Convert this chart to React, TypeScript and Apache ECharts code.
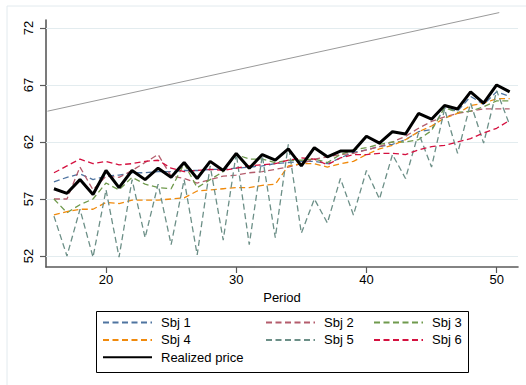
import React, { useEffect, useRef } from "react";
import * as echarts from "echarts";

const periods = [16, 17, 18, 19, 20, 21, 22, 23, 24, 25, 26, 27, 28, 29, 30, 31, 32, 33, 34, 35, 36, 37, 38, 39, 40, 41, 42, 43, 44, 45, 46, 47, 48, 49, 50, 51];

const sbj1 = [58.5, 58.9, 59.2, 58.7, 59.0, 59.1, 59.3, 59.3, 59.4, 59.4, 59.5, 59.5, 59.6, 59.6, 59.7, 59.8, 59.9, 60.1, 60.2, 60.3, 60.3, 60.1, 60.6, 61.1, 61.3, 61.6, 61.8, 62.2, 62.9, 63.1, 65.0, 64.7, 66.0, 65.3, 66.4, 66.0];
const sbj2 = [57.0, 57.0, 59.8, 57.8, 59.0, 58.9, 59.5, 60.2, 60.9, 59.0, 58.8, 58.4, 58.7, 59.0, 59.1, 59.3, 59.4, 59.6, 59.8, 60.1, 60.5, 60.7, 60.9, 61.0, 61.3, 61.6, 62.0, 62.5, 63.2, 63.8, 64.2, 64.5, 64.7, 64.9, 64.9, 64.9];
const sbj3 = [57.0, 55.8, 56.5, 57.0, 58.4, 57.8, 58.9, 58.3, 58.0, 57.9, 60.1, 58.0, 58.7, 59.4, 60.9, 60.5, 60.5, 60.2, 60.4, 60.4, 60.5, 60.2, 60.9, 61.3, 61.5, 61.8, 62.0, 62.0, 62.2, 63.0, 65.0, 64.6, 64.7, 65.1, 65.6, 65.6];
const sbj4 = [55.6, 55.9, 56.1, 56.1, 56.7, 56.6, 56.9, 56.9, 56.9, 57.0, 57.1, 57.7, 57.8, 57.9, 58.0, 58.0, 58.2, 58.3, 59.9, 60.1, 60.1, 59.8, 60.1, 60.3, 60.9, 61.4, 61.7, 62.2, 62.9, 63.4, 64.1, 64.5, 65.2, 65.4, 65.8, 65.8];
const sbj5 = [55.5, 52.0, 56.1, 51.9, 57.8, 51.9, 58.7, 53.6, 58.3, 53.0, 58.7, 52.1, 59.9, 53.4, 61.0, 53.0, 60.8, 53.6, 61.8, 54.0, 57.0, 54.9, 58.8, 55.6, 59.5, 57.0, 60.9, 58.8, 62.8, 59.8, 64.9, 61.0, 65.4, 61.9, 66.5, 63.5];
const sbj6 = [59.3, 59.9, 60.5, 60.1, 60.3, 60.0, 60.1, 60.3, 60.4, 59.7, 59.4, 59.5, 59.6, 59.5, 59.7, 59.9, 60.0, 60.1, 60.4, 60.6, 60.5, 60.0, 60.6, 60.9, 60.9, 61.0, 61.0, 60.9, 61.3, 61.6, 61.7, 62.0, 62.3, 62.8, 63.2, 63.9];
const realized = [57.9, 57.5, 58.7, 57.4, 59.5, 58.0, 59.5, 58.7, 59.7, 58.9, 60.2, 58.8, 60.3, 59.5, 61.0, 59.7, 60.9, 60.4, 61.4, 59.9, 61.5, 60.7, 61.2, 61.2, 62.5, 61.9, 62.9, 62.7, 64.5, 64.0, 65.2, 64.9, 66.4, 65.4, 67.0, 66.4];

const refLineX = [15.5, 50.2];
const refLineY = [64.7, 73.35];

const yTicks = [52, 57, 62, 67, 72];
const xTicks = [20, 30, 40, 50];

const subjectNames = ["Sbj 1", "Sbj 2", "Sbj 3", "Sbj 4", "Sbj 5", "Sbj 6"];
const subjectValues = [sbj1, sbj2, sbj3, sbj4, sbj5, sbj6];
const subjectColors = ["#4f74a0", "#b45c6c", "#6f9a4c", "#f08a0c", "#6c8f87", "#d4103f"];

const FONT = "'Liberation Sans', Arial, sans-serif";

export default function App() {
  const ref = useRef<HTMLDivElement>(null);
  useEffect(() => {
    if (!ref.current) return;
    const chart = echarts.init(ref.current, undefined, { renderer: "svg" });
    const toPairs = (vals: number[]) => periods.map((p, i) => [p, vals[i]]);
    const subjectSeries = subjectNames.map((name, k) => ({
      name,
      type: "line",
      data: toPairs(subjectValues[k]),
      symbol: "none",
      showSymbol: false,
      silent: true,
      lineStyle: { color: subjectColors[k], width: 1.3, type: [6, 3.5] },
      itemStyle: { color: subjectColors[k] },
      z: 3,
    }));
    chart.setOption({
      animation: false,
      textStyle: { fontFamily: FONT },
      grid: { left: 46, right: 8, top: 20, bottom: 118, containLabel: false },
      xAxis: {
        type: "value",
        min: 15.39,
        max: 51.64,
        name: "Period",
        nameLocation: "middle",
        nameGap: 17,
        nameTextStyle: { color: "#000", fontSize: 13, fontFamily: FONT },
        axisLine: { show: true, lineStyle: { color: "#5a5a5a", width: 1.6 } },
        axisTick: { show: true, length: 6, customValues: xTicks, lineStyle: { color: "#5a5a5a", width: 1.2 } },
        axisLabel: { customValues: xTicks, color: "#000", fontSize: 13, margin: 6, fontFamily: FONT },
        splitLine: { show: false },
      },
      yAxis: {
        type: "value",
        min: 51.035,
        max: 72.7,
        axisLine: { show: true, lineStyle: { color: "#5a5a5a", width: 1.6 } },
        axisTick: { show: true, length: 6, customValues: yTicks, lineStyle: { color: "#5a5a5a", width: 1.2 } },
        axisLabel: { customValues: yTicks, rotate: 90, color: "#000", fontSize: 13, margin: 11, fontFamily: FONT },
        splitLine: { show: false },
      },
      legend: [
        { data: ["Sbj 1", "Sbj 4", "Realized price"] as string[], left: 102 },
        { data: ["Sbj 2", "Sbj 5"] as string[], left: 265 },
        { data: ["Sbj 3", "Sbj 6"] as string[], left: 373 },
      ].map((l) => ({
        ...l,
        top: 316,
        orient: "vertical",
        itemWidth: 49,
        itemHeight: 14,
        itemGap: 4.4,
        padding: 0,
        selectedMode: false,
        itemStyle: { opacity: 0, color: "transparent", borderWidth: 0 },
        textStyle: { color: "#000", fontSize: 13, fontFamily: FONT, padding: [0, 0, 0, 4] },
      })),
      graphic: [
        { type: "rect", shape: { x: 7, y: 6, width: 600, height: 500 }, style: { fill: "none", stroke: "#e2eaee", lineWidth: 1 }, silent: true },
        { type: "rect", shape: { x: 96.5, y: 311.5, width: 372, height: 61 }, style: { fill: "none", stroke: "#000", lineWidth: 1 }, silent: true },
      ],
      series: [
        {
          name: "reference",
          type: "line",
          data: refLineX.map((x, i) => [x, refLineY[i]]),
          symbol: "none",
          silent: true,
          clip: false,
          lineStyle: { color: "#9a9a9a", width: 1 },
          markLine: {
            silent: true,
            symbol: "none",
            label: { show: false },
            lineStyle: { color: "#e3ecef", width: 1, type: "solid" },
            data: yTicks.map((v) => ({ yAxis: v })),
            z: 1,
          },
          z: 2,
        },
        ...subjectSeries,
        {
          name: "Realized price",
          type: "line",
          data: toPairs(realized),
          symbol: "none",
          showSymbol: false,
          silent: true,
          lineStyle: { color: "#000", width: 3 },
          itemStyle: { color: "#000" },
          z: 4,
        },
      ],
    });
    return () => chart.dispose();
  }, []);
  return <div ref={ref} style={{ position: "fixed", left: 0, top: 0, width: 526, height: 385, background: "#fff" }} />;
}
